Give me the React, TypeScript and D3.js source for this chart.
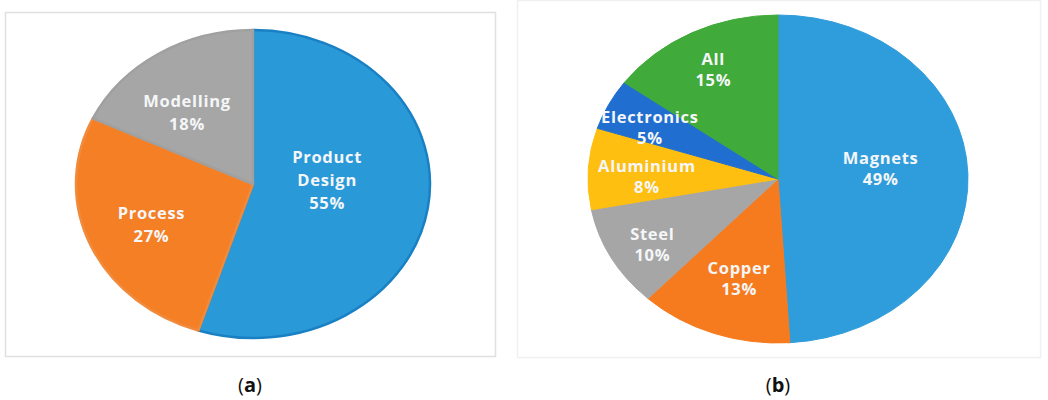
import React from "react";
import * as d3 from "d3";

// ---- data ----
const categoriesA = ["Product Design", "Process", "Modelling"];
const valuesA = [55, 27, 18];
const categoriesB = ["Magnets", "Copper", "Steel", "Aluminium", "Electronics", "All"];
const valuesB = [49, 13, 10, 8, 5, 15];
const captions = ["a", "b"];

// ---- styles / layout ----
const colorsA = ["#2A99D8", "#F57F24", "#A6A6A6"];
const colorsB = ["#2F9DDB", "#F67B1F", "#A6A6A6", "#FEBF10", "#1F6ED0", "#40AA3A"];
const strokeA = ["#1A80C4", "#F08A3C", "#A0A0A0"];
const pieA = { cx: 253, cy: 184, rx: 177, ry: 154 };
const pieB = { cx: 778, cy: 179, rx: 190, ry: 164 };
// [radius factor, angle shift in degrees] for label placement
const labelLayoutA = [[0.42, -13], [0.63, -1], [0.6, -6]];
const labelLayoutB = [[0.544, -5], [0.636, -1], [0.77, -2], [0.69, -2], [0.744, -2], [0.75, 0]];
const FONT = "'Open Sans', 'DejaVu Sans', sans-serif";

type PieProps = {
  cats: string[];
  vals: number[];
  colors: string[];
  strokes?: string[];
  geom: { cx: number; cy: number; rx: number; ry: number };
  layout: number[][];
  lh: number;
};

function EllipsePie({ cats, vals, colors, strokes, geom, layout, lh }: PieProps) {
  const pie = d3.pie<number>().sort(null).value((d) => d);
  const arcs = pie(vals);
  const arc = d3.arc<d3.PieArcDatum<number>>().innerRadius(0).outerRadius(geom.rx);
  const sy = geom.ry / geom.rx;
  const total = d3.sum(vals);
  return (
    <g>
      <g transform={`translate(${geom.cx},${geom.cy}) scale(1,${sy})`}>
        {arcs.map((a, i) => (
          <path
            key={i}
            d={arc(a) || ""}
            fill={colors[i]}
            stroke={strokes ? strokes[i] : colors[i]}
            strokeWidth={strokes ? 2.5 : 1}
            strokeLinejoin="round"
            vectorEffect="non-scaling-stroke"
          />
        ))}
      </g>
      {arcs.map((a, i) => {
        const [k, shift] = layout[i];
        const ang = (a.startAngle + a.endAngle) / 2 + (shift * Math.PI) / 180;
        const x = geom.cx + k * geom.rx * Math.sin(ang);
        const y = geom.cy - k * geom.ry * Math.cos(ang);
        const pct = d3.format(".0%")(vals[i] / total);
        const lines = [...cats[i].split(" "), pct];
        const y0 = y - ((lines.length - 1) * lh) / 2;
        return (
          <text
            key={i}
            x={x}
            textAnchor="middle"
            fontFamily={FONT}
            fontWeight={700}
            fontSize={16.5}
            letterSpacing={0.7}
            fill="#F4F6F8"
          >
            {lines.map((l, j) => (
              <tspan key={j} x={x} y={y0 + j * lh} dominantBaseline="central">
                {l}
              </tspan>
            ))}
          </text>
        );
      })}
    </g>
  );
}

export default function App() {
  return (
    <svg
      width={1048}
      height={400}
      style={{ position: "absolute", left: 0, top: 0, background: "#fff" }}
    >
      <rect x={0} y={0} width={1048} height={400} fill="#fff" />
      <rect x={5.5} y={12.5} width={490} height={344} fill="#fff" stroke="#E0E0E0" strokeWidth={1.5} />
      <rect x={517.5} y={0.5} width={523} height={357} fill="#fff" stroke="#F0F0F0" strokeWidth={1.5} />
      <EllipsePie
        cats={categoriesA}
        vals={valuesA}
        colors={colorsA}
        strokes={strokeA}
        geom={pieA}
        layout={labelLayoutA}
        lh={23}
      />
      <EllipsePie
        cats={categoriesB}
        vals={valuesB}
        colors={colorsB}
        geom={pieB}
        layout={labelLayoutB}
        lh={21}
      />
      {captions.map((c, i) => (
        <text
          key={c}
          x={i === 0 ? 250 : 778}
          y={392}
          textAnchor="middle"
          fontFamily={FONT}
          fontSize={20}
          fill="#111"
        >
          (<tspan fontWeight={700}>{c}</tspan>)
        </text>
      ))}
    </svg>
  );
}
